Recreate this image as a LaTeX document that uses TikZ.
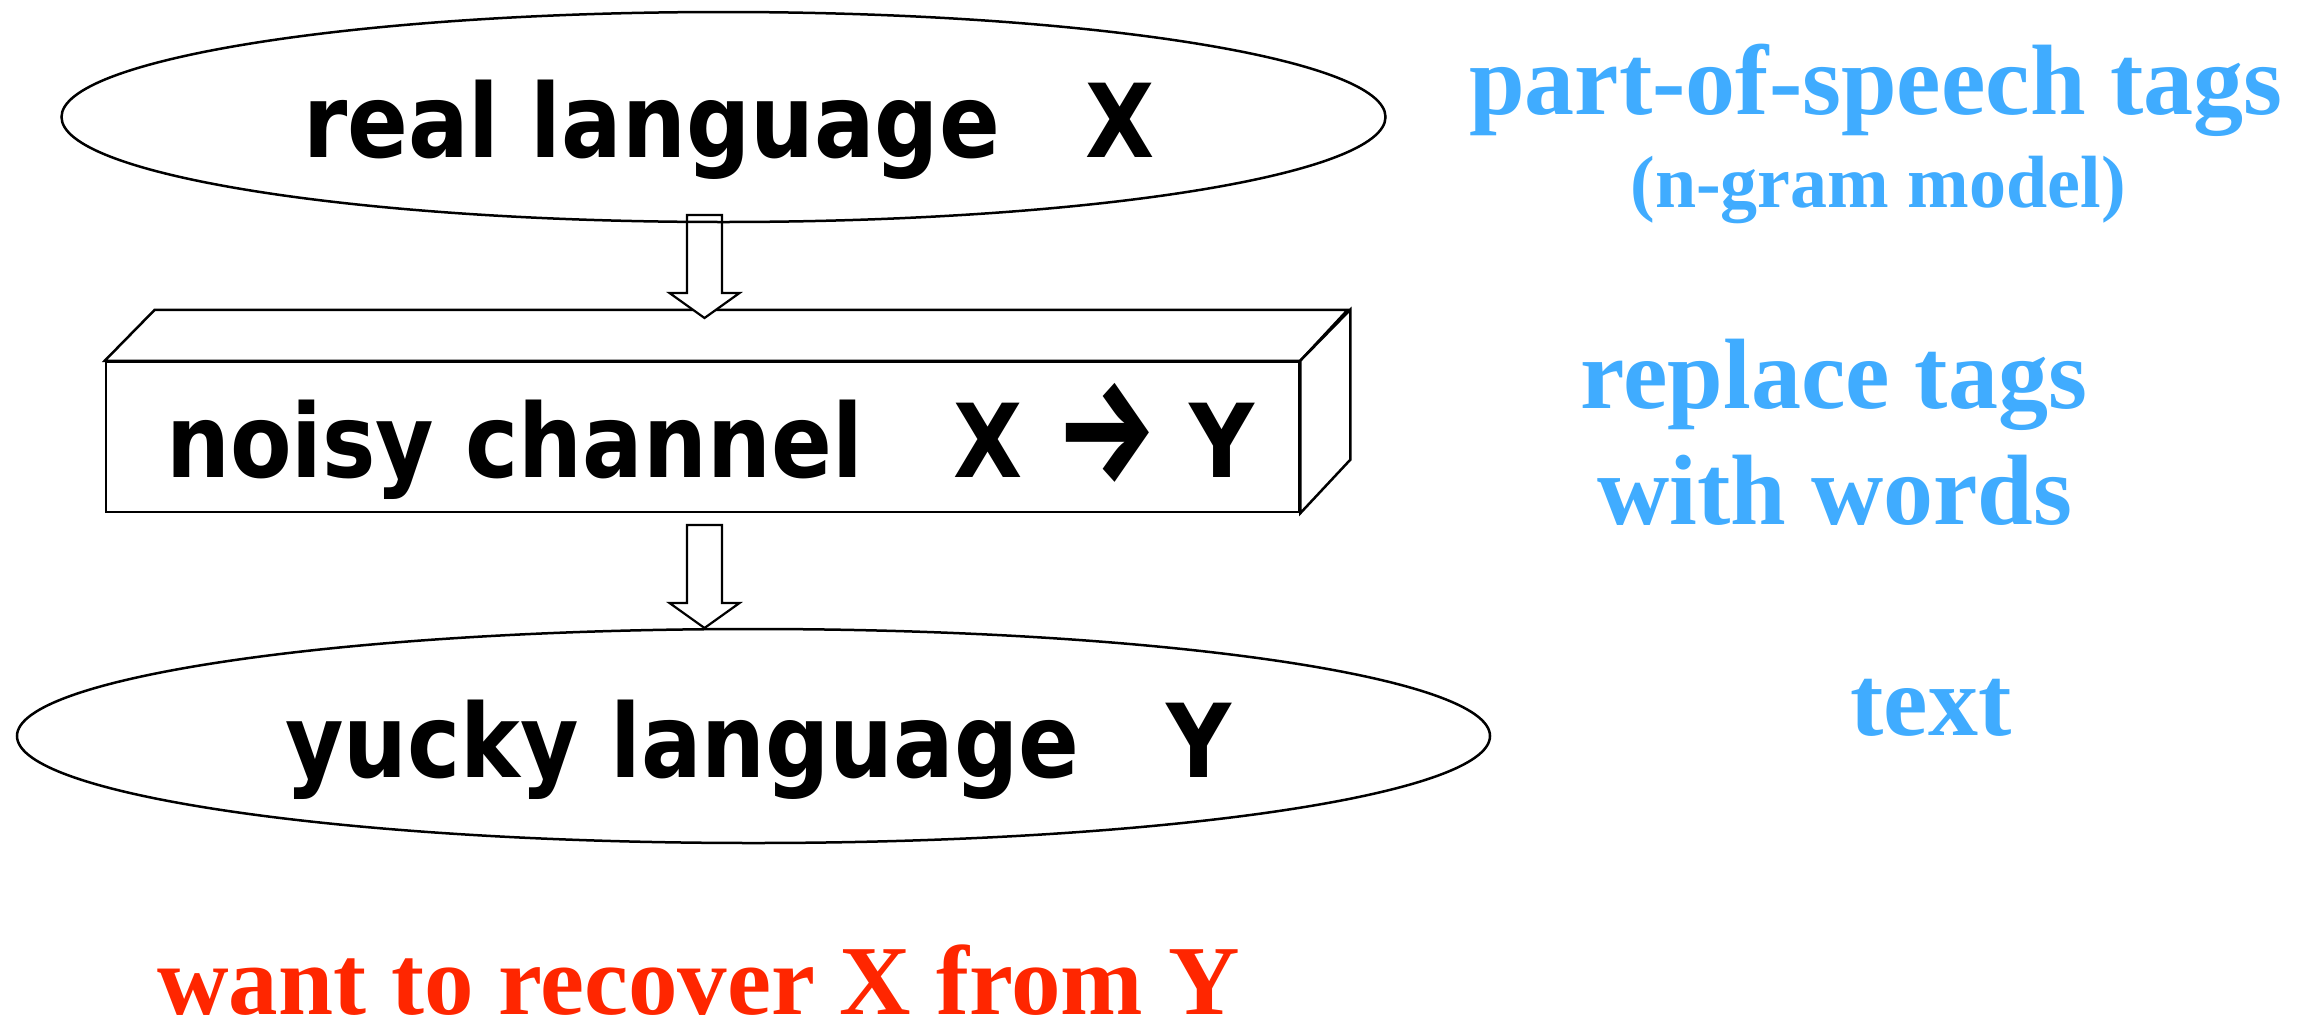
\documentclass[tikz,border=0pt]{standalone}
\usepackage{fontspec}
\usepackage{graphicx}
\usetikzlibrary{shapes.geometric,calc}
\newfontfamily\vfont{DejaVu Sans}[FakeStretch=0.88]
\newfontfamily\afont{Fira Sans}
\newfontfamily\tfont{Liberation Serif}
\definecolor{tagblue}{RGB}{64,172,255}
\definecolor{recred}{RGB}{255,38,0}
\tikzset{
  shapeline/.style={draw=black, line width=2.5pt, line join=miter},
  ovalnode/.style={shapeline, ellipse, inner sep=0pt},
  bigtext/.style={font=\fontsize{102}{110}\selectfont\vfont\bfseries, inner sep=0pt, anchor=base west},
  bluetext/.style={text=tagblue, font=\fontsize{100}{110}\selectfont\tfont\bfseries, inner sep=0pt, anchor=base},
  smallblue/.style={text=tagblue, font=\fontsize{74}{80}\selectfont\tfont\bfseries, inner sep=0pt, anchor=base},
  redtext/.style={text=recred, font=\fontsize{99}{110}\selectfont\tfont\bfseries, inner sep=0pt, anchor=base},
  blockarrow/.style={draw=black, line width=2.2pt, fill=white, line join=miter}
}
\begin{document}
\begin{tikzpicture}[x=1pt,y=-1pt]
\useasboundingbox (0,0) rectangle (2318,1023);

% noisy channel box (3D)
\node[shapeline, fill=white, minimum width=1193pt, minimum height=150pt, inner sep=0pt] (chan) at (702.5,437) {};
\draw[shapeline, fill=white] (chan.north west) -- ++(50,-51) -- ++(1193,0) -- (chan.north east) -- cycle;
\draw[shapeline, fill=white] (chan.north east) -- ++(50,-51) -- ++(0,150) -- (chan.south east) -- cycle;

% block arrows
\coordinate (a1s) at (704.5,215);
\coordinate (a1e) at (704.5,318);
\coordinate (a2s) at (704.5,525);
\coordinate (a2e) at (704.5,628);
\draw[blockarrow] ($(a1s)+(-17.5,0)$) -- ($(a1s)+(17.5,0)$) -- ($(a1e)+(17.5,-25)$) -- ($(a1e)+(35,-25)$) -- (a1e) -- ($(a1e)+(-35,-25)$) -- ($(a1e)+(-17.5,-25)$) -- cycle;
\draw[blockarrow] ($(a2s)+(-17.5,0)$) -- ($(a2s)+(17.5,0)$) -- ($(a2e)+(17.5,-25)$) -- ($(a2e)+(35,-25)$) -- (a2e) -- ($(a2e)+(-35,-25)$) -- ($(a2e)+(-17.5,-25)$) -- cycle;

% ellipses
\node[ovalnode, minimum width=1324pt, minimum height=210pt] (realX) at (723.5,117) {};
\node[ovalnode, minimum width=1473pt, minimum height=214pt] (yuckyY) at (753.5,736) {};

% black labels
\node[bigtext] (t1) at (303,157) {real language\hspace{85pt}X};
\node[bigtext] (t2) at (166,477) {noisy channel\hspace{91pt}X\hspace{32pt}\raisebox{-4pt}{\scalebox{1.12}[1.45]{\afont\bfseries →}}\hspace{32pt}Y};
\node[bigtext] (t3) at (285,777) {yucky language\hspace{87pt}Y};

% blue annotations
\node[bluetext] (b1) at (1876,114) {part-of-speech tags};
\node[smallblue] (b2) at (1878,207) {(n-gram model)};
\node[bluetext] (b3) at (1834,408) {replace tags};
\node[bluetext] (b4) at (1835,524) {with words};
\node[bluetext] (b5) at (1931,735) {text};

% red note
\node[redtext] (r1) at (698.5,1014) {want to recover X from Y};
\end{tikzpicture}
\end{document}
